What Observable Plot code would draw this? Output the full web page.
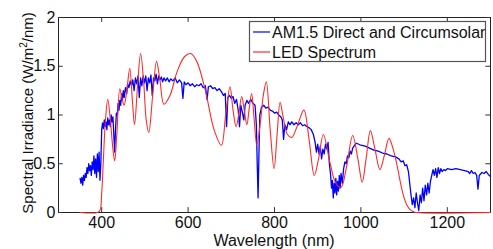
<!DOCTYPE html>
<html>
<head>
<meta charset="utf-8">
<script src="https://cdn.jsdelivr.net/npm/d3@7"></script>
<script src="https://cdn.jsdelivr.net/npm/@observablehq/plot@0.6"></script>
<style>
  html, body { margin: 0; padding: 0; background: #fff; }
  #chart { position: relative; width: 493px; height: 249px; }
</style>
</head>
<body>
<div id="chart"></div>
<script>
// ---- Data ----
const xTicks = [400, 600, 800, 1000, 1200];
const yTicks = [0, 0.5, 1, 1.5, 2];
const seriesNames = ["AM1.5 Direct and Circumsolar", "LED Spectrum"];
const xLabel = "Wavelength (nm)";

// AM1.5 direct + circumsolar spectrum (blue)
const amWl = [350,352,354,356,358,360,362,364,366,368,370,372,374,376,378,380,382,384,386,388,390,392,394,396,398,
  400,402,404,406,408,410,412,414,416,418,420,422,424,426,428,430,432,434,436,438,440,442,444,446,448,450,452,455,458,
  460,463,466,469,472,475,478,481,484,487,490,493,496,499,502,505,508,511,514,517,520,523,526,529,532,535,538,541,544,
  548,552,556,560,565,570,575,580,585,588,591,595,600,605,610,615,620,625,630,635,640,644,647,652,657,662,667,672,677,
  682,686,689,692,696,700,704,708,712,716,719,722,726,729,732,736,740,745,750,755,758,760,762,764,766,770,775,780,785,
  790,795,800,805,810,815,818,821,824,828,832,836,840,845,850,855,860,865,870,875,880,885,890,894,897,900,903,906,909,
  912,915,918,921,924,927,930,932,934,936,938,940,942,944,946,948,950,952,954,957,960,963,966,969,972,975,978,981,984,
  987,990,1000,1010,1020,1030,1040,1050,1060,1070,1080,1088,1093,1098,1102,1106,1110,1113,1116,1119,1122,1125,1128,
  1131,1134,1137,1140,1143,1146,1149,1152,1155,1158,1161,1164,1167,1170,1173,1176,1179,1182,1185,1188,1192,1196,1200,
  1210,1220,1230,1240,1248,1252,1256,1260,1264,1268,1271,1274,1280,1285,1290,1295,1300];
const amVal = [0.35,0.30,0.36,0.28,0.38,0.33,0.40,0.36,0.46,0.40,0.50,0.43,0.48,0.38,0.52,0.44,0.58,0.40,0.55,0.36,0.60,0.42,0.62,0.33,0.50,
  0.85,0.92,0.86,0.95,0.88,0.93,0.85,0.97,0.90,0.95,0.88,1.00,0.93,0.98,0.80,0.62,0.85,1.02,1.00,1.12,1.05,1.15,1.10,1.22,1.15,1.25,1.18,1.28,1.22,
  1.32,1.28,1.35,1.30,1.36,1.25,1.38,1.32,1.40,1.18,1.38,1.30,1.40,1.33,1.40,1.25,1.38,1.33,1.41,1.20,1.38,1.35,1.42,1.32,1.40,1.36,1.39,1.34,1.38,
  1.35,1.38,1.34,1.37,1.35,1.38,1.33,1.36,1.33,1.17,1.34,1.31,1.33,1.30,1.32,1.29,1.31,1.30,1.32,1.28,1.30,1.16,1.29,1.30,1.27,1.28,1.25,1.27,1.24,
  1.20,1.22,0.88,1.18,1.20,1.17,1.19,1.12,1.16,1.05,0.88,1.10,1.02,0.95,1.10,1.15,1.12,1.16,1.12,1.10,0.90,0.50,0.15,0.60,1.00,1.08,1.10,1.07,1.08,
  1.05,1.04,1.02,1.03,1.00,0.98,0.95,0.75,0.90,0.85,0.93,0.90,0.93,0.90,0.92,0.90,0.92,0.89,0.90,0.88,0.87,0.85,0.80,0.72,0.62,0.70,0.60,0.68,0.55,
  0.65,0.60,0.70,0.65,0.72,0.50,0.38,0.25,0.33,0.15,0.30,0.20,0.35,0.18,0.32,0.22,0.38,0.25,0.40,0.30,0.45,0.52,0.50,0.58,0.56,0.63,0.60,0.66,0.68,
  0.70,0.71,0.69,0.68,0.66,0.64,0.63,0.61,0.60,0.58,0.57,0.55,0.52,0.53,0.48,0.49,0.42,0.30,0.18,0.08,0.15,0.05,0.20,
  0.10,0.02,0.18,0.10,0.25,0.12,0.28,0.18,0.30,0.20,0.32,0.38,0.44,0.38,0.45,0.36,0.46,0.40,0.45,0.42,0.44,0.43,0.45,
  0.44,0.45,0.44,0.43,0.42,0.40,0.43,0.40,0.41,0.38,0.24,0.38,0.41,0.40,0.42,0.39,0.37];

// LED spectrum (red)
const ledWl = [350,390,396,400,404,408,414,420,426,430,435,442,448,452,458,465,471,476,483,490,497,503,509,518,527,535,544,
  558,575,592,606,620,640,660,677,687,697,704,711,717,724,730,736,741,747,753,759,768,774,781,790,799,806,813,820,830,
  840,852,868,880,892,902,913,928,942,954,966,981,993,1003,1012,1022,1033,1044,1054,1065,1074,1082,1090,1098,1106,
  1114,1121,1128,1300];
const ledVal = [0,0,0.02,0.2,0.55,0.9,1.16,0.95,0.65,0.53,0.8,1.27,1.15,1.1,1.25,1.48,1.15,0.9,1.3,1.63,1.35,0.95,0.82,1.2,1.55,1.35,1.11,
  1.2,1.45,1.6,1.63,1.55,1.25,0.85,0.69,1.0,1.29,1.05,0.88,1.0,1.19,1.05,0.9,1.05,1.22,0.95,0.69,0.95,1.2,1.34,0.85,0.45,0.8,1.13,0.98,0.8,
  0.77,0.88,1.05,0.75,0.38,0.55,0.8,0.52,0.3,0.26,0.45,0.79,0.55,0.31,0.55,0.84,0.64,0.44,0.58,0.76,0.66,0.52,0.34,0.18,0.08,
  0.03,0.01,0,0];

const am = amWl.map((w, i) => ({w, v: amVal[i]}));
const led = ledWl.map((w, i) => ({w, v: ledVal[i]}));

const FONT = "'Liberation Sans', Arial, Helvetica, sans-serif";

const plot = Plot.plot({
  width: 493,
  height: 249,
  marginTop: 17,
  marginBottom: 37,
  marginLeft: 58,
  marginRight: 3,
  style: {fontFamily: FONT, fontSize: "16px", color: "#111", background: "#fff"},
  x: {domain: [300, 1300]},
  y: {domain: [0, 2]},
  marks: [
    Plot.frame({stroke: "#222"}),
    Plot.ruleX(xTicks, {x: d => d, y1: 0, y2: 0.05, stroke: "#333"}),
    Plot.ruleX(xTicks, {x: d => d, y1: 2, y2: 1.95, stroke: "#333"}),
    Plot.ruleY(yTicks, {y: d => d, x1: 300, x2: 311, stroke: "#333"}),
    Plot.ruleY(yTicks, {y: d => d, x1: 1300, x2: 1289, stroke: "#333"}),
    Plot.line(am, {x: "w", y: "v", stroke: "#0000ff", strokeWidth: 1.3}),
    Plot.line(led, {x: "w", y: "v", stroke: "#ff2a2a", strokeWidth: 1.1, curve: "catmull-rom"}),
    Plot.axisX({ticks: xTicks, tickSize: 0, tickPadding: 4, label: null, fontSize: 16, tickFormat: d => String(d)}),
    Plot.axisY({ticks: yTicks, tickSize: 0, tickPadding: 3, label: null, fontSize: 16, tickFormat: d => String(d)})
  ]
});

document.getElementById("chart").appendChild(plot);

const svg = d3.select(plot);
// axis titles
svg.append("text")
  .attr("x", 274).attr("y", 246)
  .attr("text-anchor", "middle")
  .attr("fill", "#111")
  .style("font-size", "16px")
  .text(xLabel);

const yl = svg.append("text")
  .attr("transform", "translate(32.5,113) rotate(-90)")
  .attr("text-anchor", "middle")
  .attr("fill", "#111")
  .style("font-size", "15px");
yl.append("tspan").text("Spectral Irradiance (W/m");
yl.append("tspan").attr("dy", -6).style("font-size", "10px").text("2");
yl.append("tspan").attr("dy", 6).text("/nm)");

// legend
const lg = svg.append("g").attr("text-anchor", "start");
lg.append("rect").attr("x", 249.5).attr("y", 21.5).attr("width", 236).attr("height", 40)
  .attr("fill", "#fff").attr("stroke", "#555").attr("stroke-width", 1.2);
const colors = ["#0000ff", "#ff2a2a"];
seriesNames.forEach((name, i) => {
  const cy = 32 + i * 20;
  lg.append("line").attr("x1", 253).attr("x2", 270).attr("y1", cy).attr("y2", cy)
    .attr("stroke", colors[i]).attr("stroke-width", 1.2);
  lg.append("text").attr("x", 272).attr("y", cy + 5.5).attr("text-anchor", "start")
    .attr("fill", "#111").style("font-size", "16px").text(name);
});
</script>
</body>
</html>
